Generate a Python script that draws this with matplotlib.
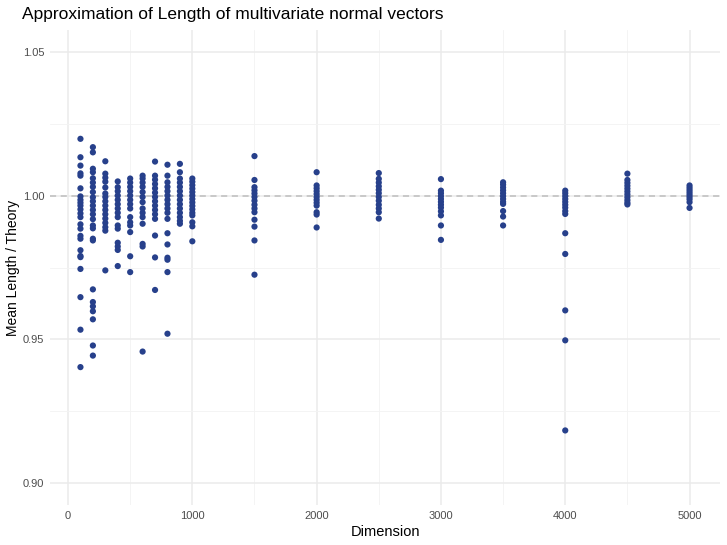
import matplotlib
matplotlib.use("Agg")
import matplotlib.pyplot as plt

plt.rcParams['font.family'] = ['Liberation Sans', 'DejaVu Sans']

# mean length / theory for each dimension
dims = [100, 200, 300, 400, 500, 600, 700, 800, 900, 1000,
        1500, 2000, 2500, 3000, 3500, 4000, 4500, 5000]

ratios = [
    [1.0197, 1.0133, 1.0104, 1.0077, 1.0069, 1.0025, 0.9997, 0.9985, 0.9975, 0.9965, 0.9952, 0.9938,
     0.9925, 0.9900, 0.9885, 0.9860, 0.9850, 0.9810, 0.9790, 0.9786, 0.9745, 0.9647, 0.9534, 0.9404],
    [1.0168, 1.0150, 1.0093, 1.0081, 1.0060, 1.0045, 1.0030, 1.0012, 0.9994, 0.9980, 0.9965, 0.9950,
     0.9935, 0.9918, 0.9896, 0.9886, 0.9850, 0.9844, 0.9674, 0.9630, 0.9615, 0.9598, 0.9570, 0.9479, 0.9444],
    [1.0119, 1.0076, 1.0062, 1.0048, 1.0028, 1.0007, 0.9995, 0.9980, 0.9965, 0.9950, 0.9935, 0.9920,
     0.9905, 0.9890, 0.9878, 0.9740],
    [1.0049, 1.0029, 1.0015, 1.0000, 0.9985, 0.9970, 0.9955, 0.9940, 0.9925, 0.9896, 0.9885, 0.9836,
     0.9823, 0.9811, 0.9755],
    [1.0059, 1.0045, 1.0030, 1.0015, 1.0000, 0.9985, 0.9970, 0.9955, 0.9925, 0.9907, 0.9896, 0.9873,
     0.9789, 0.9734],
    [1.0069, 1.0059, 1.0045, 1.0030, 1.0012, 0.9995, 0.9977, 0.9955, 0.9940, 0.9925, 0.9902, 0.9832,
     0.9823, 0.9458],
    [1.0118, 1.0069, 1.0055, 1.0040, 1.0025, 1.0010, 0.9995, 0.9980, 0.9965, 0.9950, 0.9935, 0.9919,
     0.9861, 0.9785, 0.9672],
    [1.0107, 1.0069, 1.0046, 1.0030, 1.0015, 1.0000, 0.9985, 0.9970, 0.9955, 0.9940, 0.9919, 0.9869,
     0.9830, 0.9784, 0.9777, 0.9734, 0.9520],
    [1.0110, 1.0081, 1.0059, 1.0045, 1.0030, 1.0015, 1.0000, 0.9985, 0.9970, 0.9955, 0.9940, 0.9925,
     0.9912, 0.9902],
    [1.0059, 1.0048, 1.0036, 1.0024, 1.0012, 1.0000, 0.9988, 0.9976, 0.9964, 0.9952, 0.9940, 0.9931,
     0.9907, 0.9893, 0.9841],
    [1.0137, 1.0054, 1.0029, 1.0018, 1.0007, 0.9995, 0.9982, 0.9968, 0.9955, 0.9942, 0.9916, 0.9892,
     0.9844, 0.9725],
    [1.0081, 1.0035, 1.0025, 1.0015, 1.0005, 0.9995, 0.9985, 0.9975, 0.9965, 0.9942, 0.9934, 0.9889],
    [1.0078, 1.0058, 1.0045, 1.0032, 1.0020, 1.0008, 0.9995, 0.9982, 0.9968, 0.9955, 0.9942, 0.9920],
    [1.0057, 1.0017, 1.0008, 0.9998, 0.9988, 0.9978, 0.9968, 0.9958, 0.9945, 0.9931, 0.9896, 0.9846],
    [1.0046, 1.0038, 1.0028, 1.0018, 1.0008, 0.9998, 0.9988, 0.9978, 0.9971, 0.9946, 0.9927, 0.9896],
    [1.0017, 1.0008, 0.9998, 0.9988, 0.9978, 0.9968, 0.9958, 0.9946, 0.9936, 0.9869, 0.9797, 0.9601,
     0.9497, 0.9184],
    [1.0076, 1.0054, 1.0044, 1.0034, 1.0024, 1.0014, 1.0004, 0.9994, 0.9984, 0.9975, 0.9969],
    [1.0035, 1.0027, 1.0019, 1.0011, 1.0003, 0.9995, 0.9987, 0.9977, 0.9957],
]

x_ticks = [0, 1000, 2000, 3000, 4000, 5000]
y_ticks = [0.90, 0.95, 1.00, 1.05]

xs = [d for d, r in zip(dims, ratios) for _ in r]
ys = [v for r in ratios for v in r]

fig = plt.figure(figsize=(7.27, 5.45), dpi=100)
ax = fig.add_axes([50 / 727, 40 / 545, 670 / 727, 475 / 545])

# ggplot-like minimal grid
for x in x_ticks:
    ax.axvline(x, color='#EBEBEB', lw=1.1, zorder=0)
for x in [500, 1500, 2500, 3500, 4500]:
    ax.axvline(x, color='#F3F3F3', lw=0.6, zorder=0)
for y in y_ticks:
    ax.axhline(y, color='#EBEBEB', lw=1.1, zorder=0)
for y in [0.925, 0.975, 1.025]:
    ax.axhline(y, color='#F3F3F3', lw=0.6, zorder=0)

ax.axhline(1.0, color='#BEBEBE', lw=1.1, ls=(0, (4, 3)), zorder=1)
ax.scatter(xs, ys, s=20, color='#27408B', edgecolors='none', zorder=2)

ax.set_xlim(-145, 5245)
ax.set_ylim(0.8925, 1.0575)
ax.set_xticks(x_ticks)
ax.set_yticks(y_ticks)
ax.set_yticklabels(['0.90', '0.95', '1.00', '1.05'])
ax.tick_params(length=0, labelsize=8, labelcolor='#4D4D4D', pad=4)
for s in ax.spines.values():
    s.set_visible(False)

ax.set_xlabel('Dimension', fontsize=10.5, labelpad=3)
ax.set_ylabel('Mean Length / Theory', fontsize=10, labelpad=2)
fig.text(22 / 727, 1 - 14 / 545, 'Approximation of Length of multivariate normal vectors',
         fontsize=12.5, va='center', ha='left')

fig.savefig('out.png', dpi=100)
